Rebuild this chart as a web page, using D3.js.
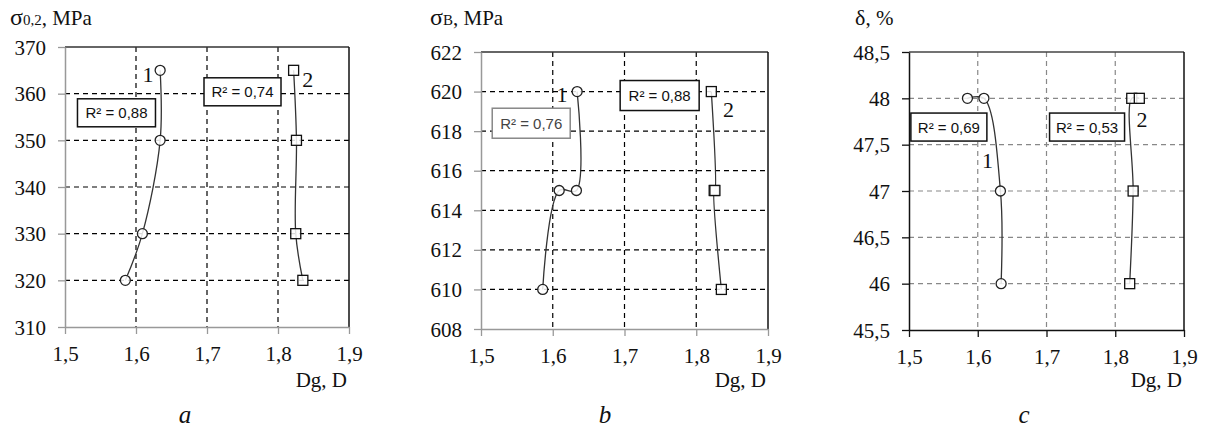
<!DOCTYPE html>
<html><head><meta charset="utf-8">
<script src="https://cdn.jsdelivr.net/npm/d3@7"></script>
<style>
html,body{margin:0;padding:0;background:#fff;}
svg{display:block;}
</style></head>
<body>
<svg id="chart" width="1207" height="429"></svg>
<script>
// ---------- DATA ----------
const xTicks = [1.5, 1.6, 1.7, 1.8, 1.9];

const aYTicks = [310, 320, 330, 340, 350, 360, 370];
const aS1x = [1.585, 1.609, 1.634, 1.634];
const aS1y = [320, 330, 350, 365];
const aS2x = [1.835, 1.825, 1.826, 1.822];
const aS2y = [320, 330, 350, 365];
const aR2 = ["R² = 0,88", "R² = 0,74"];

const bYTicks = [608, 610, 612, 614, 616, 618, 620, 622];
const bS1x = [1.586, 1.609, 1.633, 1.634];
const bS1y = [610, 615, 615, 620];
const bS2x = [1.835, 1.825, 1.826, 1.821];
const bS2y = [610, 615, 615, 620];
const bR2 = ["R² = 0,76", "R² = 0,88"];

const cYTicks = [45.5, 46, 46.5, 47, 47.5, 48, 48.5];
const cS1x = [1.585, 1.609, 1.633, 1.634];
const cS1y = [48, 48, 47, 46];
const cS2x = [1.821, 1.826, 1.824, 1.835];
const cS2y = [46, 47, 48, 48];
const cR2 = ["R² = 0,69", "R² = 0,53"];

const seriesLabels = ["1", "2"];
const xTitle = "Dg, D";

// ---------- LAYOUT ----------
const loc = d3.formatLocale({decimal: ",", thousands: " ", grouping: [3], currency: ["", ""]});
const fx = loc.format(".1f");
const fyInt = loc.format("d");
const fyDec = loc.format(".1~f");

const panels = [
  {
    rect: {l: 65, r: 349, t: 47, b: 327}, xDom: [1.5, 1.9], yDom: [310, 370], yTicks: aYTicks, fy: fyInt,
    s1x: aS1x, s1y: aS1y, s2x: aS2x, s2y: aS2y, r2: aR2,
    axisColor: "#999", gridColor: "#000", gridDash: "5,4", topColor: "#333", rightColor: "#111",
    title: [{t: "σ", size: 24}, {t: "0,2", size: 15}, {t: ", MPa", size: 21}], titleX: 10,
    lab1: [1.617, 362.6], lab2: [1.842, 361.5],
    box1: {c: [1.5725, 355.9], w: 78, h: 28, stroke: "#111", color: "#111"},
    box2: {c: [1.75, 360.4], w: 77, h: 28, stroke: "#111", color: "#111"},
    letter: "a", letterX: 185
  },
  {
    rect: {l: 481, r: 768, t: 52, b: 329}, xDom: [1.5, 1.9], yDom: [608, 622], yTicks: bYTicks, fy: fyInt,
    s1x: bS1x, s1y: bS1y, s2x: bS2x, s2y: bS2y, r2: bR2,
    axisColor: "#999", gridColor: "#000", gridDash: "5,4", topColor: "#333", rightColor: "#111",
    title: [{t: "σ", size: 24}, {t: "B", size: 15}, {t: ", MPa", size: 21}], titleX: 430,
    lab1: [1.613, 619.47], lab2: [1.845, 618.7],
    box1: {c: [1.570, 618.4], w: 78, h: 30, stroke: "#888", color: "#444"},
    box2: {c: [1.749, 619.8], w: 79, h: 30, stroke: "#111", color: "#111"},
    letter: "b", letterX: 605
  },
  {
    rect: {l: 909, r: 1184, t: 52, b: 330}, xDom: [1.5, 1.9], yDom: [45.5, 48.5], yTicks: cYTicks, fy: fyDec,
    s1x: cS1x, s1y: cS1y, s2x: cS2x, s2y: cS2y, r2: cR2,
    axisColor: "#111", gridColor: "#888", gridDash: "5,4", topColor: "#444", rightColor: "#111",
    title: [{t: "δ", size: 22}, {t: ", %", size: 21}], titleX: 855,
    lab1: [1.614, 47.246], lab2: [1.839, 47.69],
    box1: {c: [1.558, 47.69], w: 76, h: 28, stroke: "#111", color: "#111"},
    box2: {c: [1.759, 47.69], w: 75, h: 28, stroke: "#111", color: "#111"},
    letter: "c", letterX: 1024
  }
];

const svg = d3.select("#chart");
svg.append("rect").attr("width", 1207).attr("height", 429).attr("fill", "#fff");

const serif = "'Liberation Serif', serif";
const sans = "'Liberation Sans', sans-serif";

panels.forEach(p => {
  const R = p.rect;
  const x = d3.scaleLinear().domain(p.xDom).range([R.l, R.r]);
  const y = d3.scaleLinear().domain(p.yDom).range([R.b, R.t]);
  const g = svg.append("g");

  // grid
  const innerX = xTicks.slice(1, -1);
  const innerY = p.yTicks.slice(1, -1);
  g.selectAll(".gx").data(innerX).join("line")
    .attr("x1", d => x(d)).attr("x2", d => x(d)).attr("y1", R.t).attr("y2", R.b)
    .attr("stroke", p.gridColor).attr("stroke-width", 1.2).attr("stroke-dasharray", p.gridDash);
  g.selectAll(".gy").data(innerY).join("line")
    .attr("x1", R.l).attr("x2", R.r).attr("y1", d => y(d)).attr("y2", d => y(d))
    .attr("stroke", p.gridColor).attr("stroke-width", 1.2).attr("stroke-dasharray", p.gridDash);

  // border top/right
  g.append("line").attr("x1", R.l).attr("x2", R.r).attr("y1", R.t).attr("y2", R.t)
    .attr("stroke", p.topColor).attr("stroke-width", 1.5);
  g.append("line").attr("x1", R.r).attr("x2", R.r).attr("y1", R.t).attr("y2", R.b)
    .attr("stroke", p.rightColor).attr("stroke-width", 1.5);

  // axes
  const ax = g.append("g").attr("transform", `translate(0,${R.b})`)
    .call(d3.axisBottom(x).tickValues(xTicks).tickSize(7).tickSizeOuter(0).tickFormat(fx));
  const ay = g.append("g").attr("transform", `translate(${R.l},0)`)
    .call(d3.axisLeft(y).tickValues(p.yTicks).tickSize(7).tickSizeOuter(0).tickFormat(p.fy));
  [ax, ay].forEach(a => {
    a.attr("font-family", null).attr("font-size", null);
    a.select(".domain").attr("stroke", p.axisColor).attr("stroke-width", 1.5);
    a.selectAll(".tick line").attr("stroke", p.axisColor).attr("stroke-width", 1.3);
    a.selectAll(".tick text").style("font-family", serif).style("font-size", "21px").attr("fill", "#111");
  });
  ax.selectAll(".tick text").attr("dy", 0).attr("y", 34);
  ay.selectAll(".tick text").attr("x", -19).attr("dy", "0.34em");

  // series
  const line = d3.line().curve(d3.curveCatmullRom.alpha(0.5)).x(d => x(d[0])).y(d => y(d[1]));
  const s1 = p.s1x.map((v, i) => [v, p.s1y[i]]);
  const s2 = p.s2x.map((v, i) => [v, p.s2y[i]]);
  g.append("path").attr("d", line(s1)).attr("fill", "none").attr("stroke", "#333").attr("stroke-width", 1.3);
  g.append("path").attr("d", line(s2)).attr("fill", "none").attr("stroke", "#333").attr("stroke-width", 1.3);
  g.selectAll(".c").data(s1).join("circle")
    .attr("cx", d => x(d[0])).attr("cy", d => y(d[1])).attr("r", 5)
    .attr("fill", "#fff").attr("fill-opacity", 0.85).attr("stroke", "#222").attr("stroke-width", 1.3);
  g.selectAll(".s").data(s2).join("rect")
    .attr("x", d => x(d[0]) - 5).attr("y", d => y(d[1]) - 5).attr("width", 10).attr("height", 10)
    .attr("fill", "#fff").attr("fill-opacity", 0.85).attr("stroke", "#111").attr("stroke-width", 1.3);

  // series labels
  [[p.lab1, seriesLabels[0]], [p.lab2, seriesLabels[1]]].forEach(([pos, t]) => {
    g.append("text").attr("x", x(pos[0])).attr("y", y(pos[1])).attr("text-anchor", "middle")
      .style("font-family", serif).style("font-size", "22px").attr("fill", "#111").text(t);
  });

  // R² boxes
  [[p.box1, p.r2[0]], [p.box2, p.r2[1]]].forEach(([b, t]) => {
    const cx = x(b.c[0]), cy = y(b.c[1]);
    g.append("rect").attr("x", cx - b.w / 2).attr("y", cy - b.h / 2).attr("width", b.w).attr("height", b.h)
      .attr("fill", "#fff").attr("stroke", b.stroke).attr("stroke-width", 1.5);
    g.append("text").attr("x", cx).attr("y", cy + 5.5).attr("text-anchor", "middle")
      .style("font-family", sans).style("font-size", "15px").attr("fill", b.color).text(t);
  });

  // y title
  const tt = g.append("text").attr("x", p.titleX).attr("y", 25).style("font-family", serif).attr("fill", "#111");
  p.title.forEach(s => tt.append("tspan").style("font-size", s.size + "px").text(s.t));

  // x title
  g.append("text").attr("x", R.r - 2).attr("y", 387).attr("text-anchor", "end")
    .style("font-family", serif).style("font-size", "21px").attr("fill", "#111").text(xTitle);

  // panel letter
  g.append("text").attr("x", p.letterX).attr("y", 423).attr("text-anchor", "middle")
    .style("font-family", serif).style("font-style", "italic").style("font-size", "25px").attr("fill", "#111").text(p.letter);
});
</script>
</body></html>
